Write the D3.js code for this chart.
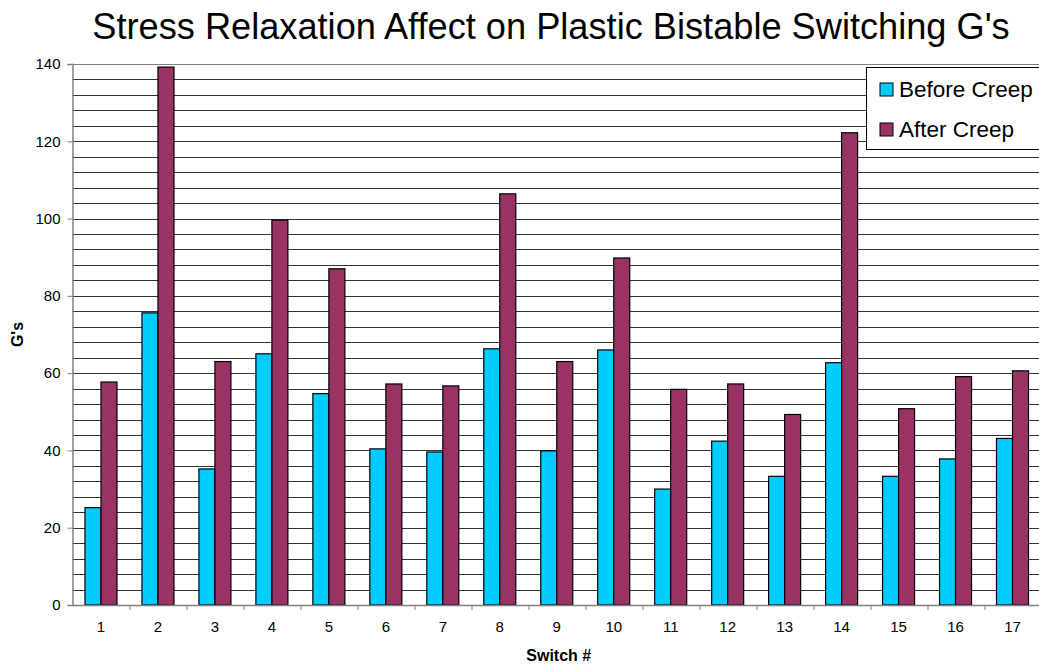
<!DOCTYPE html>
<html>
<head>
<meta charset="utf-8">
<script src="https://cdn.jsdelivr.net/npm/d3@7"></script>
<style>
  body { margin: 0; background: #fff; }
  svg { display: block; font-family: "Liberation Sans", Arial, sans-serif; }
</style>
</head>
<body>
<div id="chart"></div>
<script>
// switch numbers and measured G's
const switches = ["1","2","3","4","5","6","7","8","9","10","11","12","13","14","15","16","17"];
const beforeCreep = [25.2, 75.6, 35.2, 65.0, 54.7, 40.4, 39.6, 66.3, 39.9, 66.0, 30.0, 42.4, 33.3, 62.7, 33.3, 37.8, 43.1];
const afterCreep = [57.7, 139.2, 63.0, 99.6, 87.0, 57.2, 56.7, 106.4, 63.0, 89.8, 55.8, 57.2, 49.3, 122.2, 50.8, 59.1, 60.6];
const seriesNames = ["Before Creep", "After Creep"];
const seriesColors = ["#00CCFF", "#993366"];
const yTicks = [0, 20, 40, 60, 80, 100, 120, 140];

const W = 1039, H = 665;
const margin = { top: 64, right: -2, bottom: 60, left: 72.5 };
const width = W - margin.left - margin.right;
const height = H - margin.top - margin.bottom;

const svg = d3.select("#chart").append("svg")
    .attr("width", W)
    .attr("height", H);

// title
svg.append("text")
    .attr("x", 551)
    .attr("y", 39)
    .attr("text-anchor", "middle")
    .attr("font-size", "36.2px")
    .text("Stress Relaxation Affect on Plastic Bistable Switching G's");

const g = svg.append("g")
    .attr("transform", `translate(${margin.left},${margin.top})`);

const x = d3.scaleBand()
    .domain(switches)
    .range([0, width]);

const y = d3.scaleLinear()
    .domain([0, 140])
    .range([height, 0]);

// gridlines every 4
const gridVals = d3.range(4, 141, 4);
g.selectAll(".grid")
    .data(gridVals)
    .enter()
    .append("line")
    .attr("x1", 0)
    .attr("x2", width)
    .attr("y1", d => Math.round(y(d)) + 0.5)
    .attr("y2", d => Math.round(y(d)) + 0.5)
    .attr("stroke", d => d === 140 ? "#808080" : "#333")
    .attr("stroke-width", 1);

// bars, two per switch
const inner = d3.scaleBand()
    .domain([0, 1])
    .range([0, 32]);

const groups = g.selectAll(".grp")
    .data(switches)
    .enter()
    .append("g")
    .attr("transform", d => `translate(${x(d) + (x.bandwidth() - 32) / 2},0)`);

groups.selectAll("rect")
    .data((d, i) => [beforeCreep[i], afterCreep[i]])
    .enter()
    .append("rect")
    .attr("x", (d, j) => inner(j))
    .attr("y", d => y(d))
    .attr("width", inner.bandwidth())
    .attr("height", d => y(0) - y(d))
    .attr("fill", (d, j) => seriesColors[j])
    .attr("stroke", "#000")
    .attr("stroke-width", 1.2);

// y axis
const yAxis = g.append("g")
    .call(d3.axisLeft(y).tickValues(yTicks).tickSize(5).tickPadding(7));
yAxis.select(".domain").attr("stroke", "#808080").attr("stroke-width", 1.5);
yAxis.selectAll(".tick line").attr("stroke", "#808080");
yAxis.selectAll("text").attr("font-size", "15px").attr("fill", "#000")
    .attr("font-family", "Liberation Sans, Arial, sans-serif");

// x axis, ticks at category boundaries
const xAxis = g.append("g")
    .attr("transform", `translate(0,${height})`)
    .call(d3.axisBottom(x).tickSize(0).tickPadding(16));
xAxis.select(".domain").attr("stroke", "#808080").attr("stroke-width", 1.5);
xAxis.selectAll("text").attr("font-size", "15px").attr("fill", "#000")
    .attr("font-family", "Liberation Sans, Arial, sans-serif");
xAxis.selectAll(".bound")
    .data(switches.slice(1))
    .enter()
    .append("line")
    .attr("x1", d => Math.round(x(d)) + 0.5)
    .attr("x2", d => Math.round(x(d)) + 0.5)
    .attr("y1", 0)
    .attr("y2", 5)
    .attr("stroke", "#808080");

// axis titles
svg.append("text")
    .attr("transform", `translate(23,${margin.top + height / 2}) rotate(-90)`)
    .attr("text-anchor", "middle")
    .attr("font-size", "16px")
    .attr("font-weight", "bold")
    .text("G's");

svg.append("text")
    .attr("x", margin.left + width / 2 + 2)
    .attr("y", 661)
    .attr("text-anchor", "middle")
    .attr("font-size", "16px")
    .attr("font-weight", "bold")
    .text("Switch #");

// legend
const legend = svg.append("g").attr("transform", "translate(866.5,67.5)");
legend.append("rect")
    .attr("width", 180)
    .attr("height", 82)
    .attr("fill", "#fff")
    .attr("stroke", "#000")
    .attr("stroke-width", 1);
seriesNames.forEach((name, i) => {
    const row = legend.append("g")
        .attr("transform", `translate(13.5,${15.5 + i * 40})`);
    row.append("rect")
        .attr("width", 13)
        .attr("height", 13)
        .attr("fill", seriesColors[i])
        .attr("stroke", "#000");
    row.append("text")
        .attr("x", 19)
        .attr("y", 14)
        .attr("font-size", "22.5px")
        .text(name);
});
</script>
</body>
</html>
